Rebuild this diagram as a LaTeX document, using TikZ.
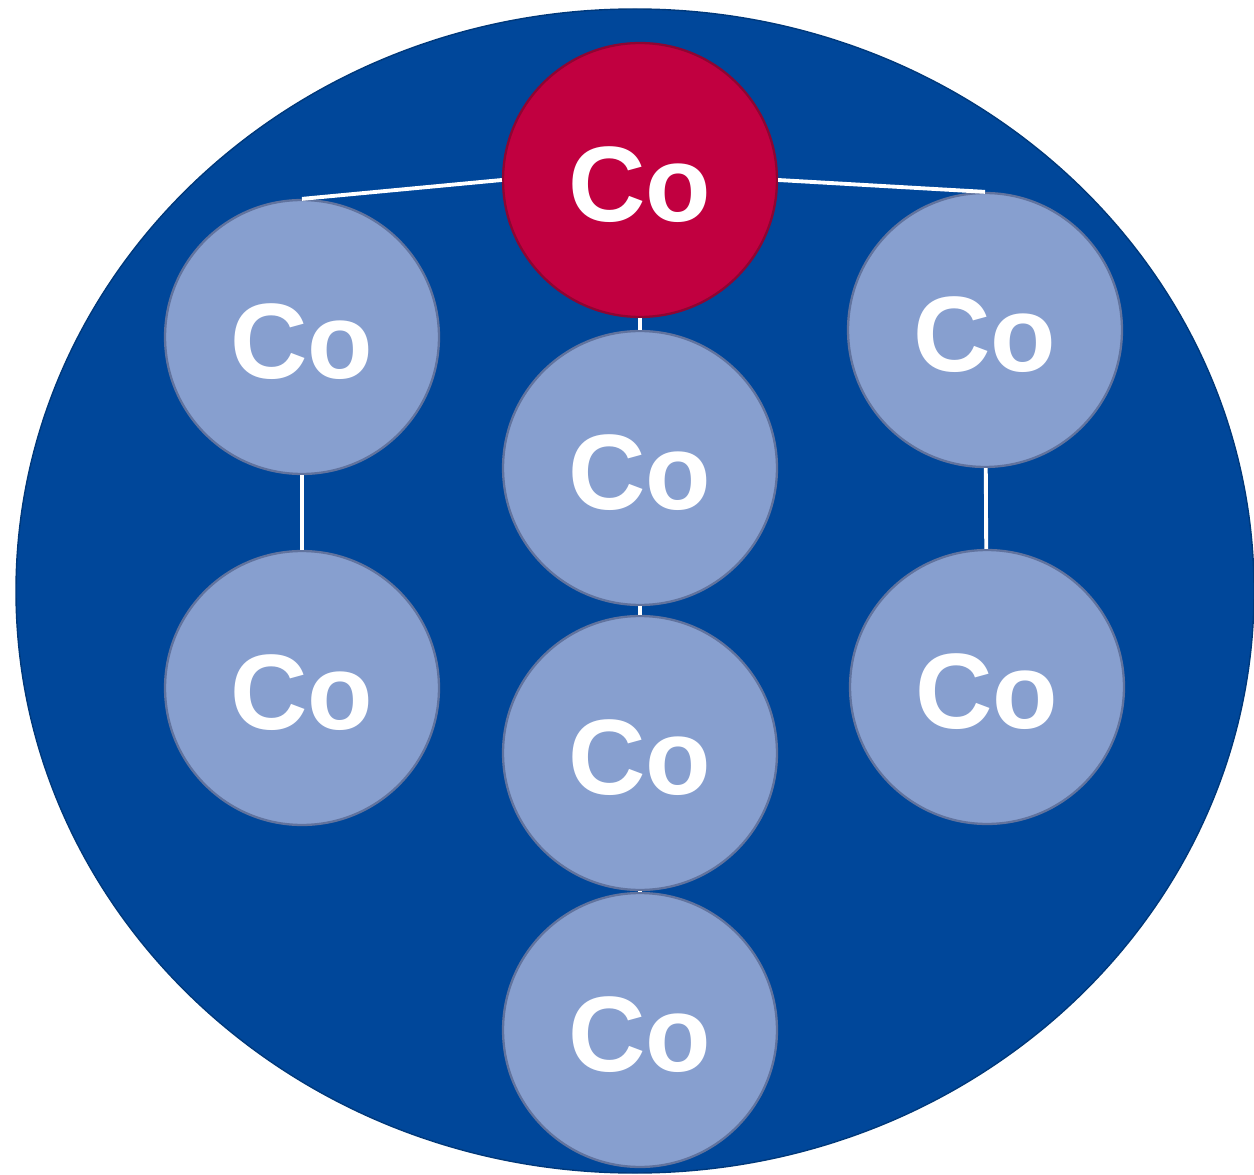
\documentclass[tikz,border=0pt]{standalone}
\usepackage{fontspec}
\setmainfont{Liberation Sans}
\definecolor{bgblue}{HTML}{00479A}
\definecolor{atomblue}{HTML}{879FCF}
\definecolor{atomedge}{HTML}{61739E}
\definecolor{hotred}{HTML}{C10040}
\definecolor{hotedge}{HTML}{8E0532}
\tikzset{
  atom/.style={circle, minimum size=5.48cm, inner sep=0pt, fill=atomblue, draw=atomedge, line width=1.3pt,
    text=white, font=\fontsize{61}{61}\selectfont\bfseries},
  bond/.style={white, line width=2.2pt}
}
\begin{document}
\begin{tikzpicture}[x=0.02cm, y=-0.02cm]
\useasboundingbox (0,0) rectangle (1254,1175);
\fill[bgblue] (635,591) ellipse [x radius=619, y radius=582];
\draw[bgblue!80!black, line width=0.8pt] (635,591) ellipse [x radius=619, y radius=582];
\node[atom, fill=hotred, draw=hotedge] (co0) at (640,180){};
\node[atom] (co1) at (302,337){};
\node[atom] (co2) at (302,688){};
\node[atom] (co3) at (640,468){};
\node[atom] (co4) at (640,753){};
\node[atom] (co5) at (640,1030){};
\node[atom] (co6) at (985,330){};
\node[atom] (co7) at (987,687){};
\draw[bond](co0.west) -- (co1.north);
\draw[bond](co0.east) -- (co6.north);
\draw[bond](co1) -- (co2);
\draw[bond](co6) -- (co7);
\draw[bond](co0) -- (co3);
\draw[bond](co3) -- (co4);
\draw[bond](co4) -- (co5);
\foreach \n in {co0,co1,co2,co3,co4,co5,co6,co7}
  \node[text=white, font=\fontsize{61}{61}\selectfont\bfseries] (lbl-\n) at ([yshift=-0.1cm]\n){Co};
\end{tikzpicture}
\end{document}
